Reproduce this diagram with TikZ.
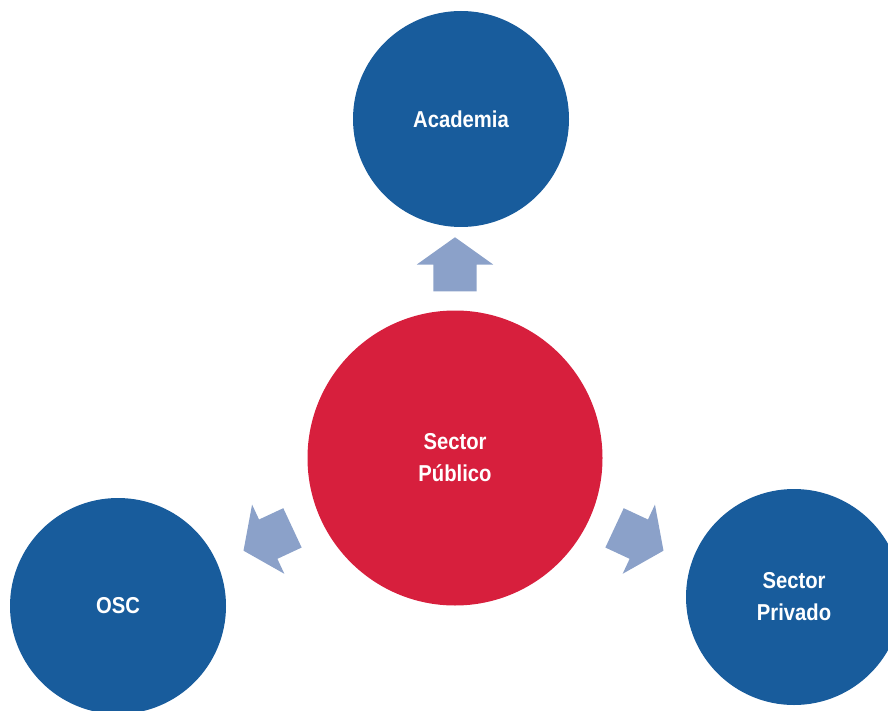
\documentclass[tikz,border=0pt]{standalone}
\usepackage{fontspec}
\setmainfont{Liberation Sans}[FakeStretch=0.88]
\usetikzlibrary{shapes.arrows}
\definecolor{hubred}{RGB}{215,31,61}
\definecolor{satblue}{RGB}{24,92,156}
\definecolor{flowblue}{RGB}{139,161,201}
\begin{document}
\begin{tikzpicture}[x=1pt,y=-1pt,
  bubble/.style={circle, inner sep=0pt, text=white, align=center,
    font=\fontsize{23}{32}\selectfont\bfseries},
  hub/.style={bubble, fill=hubred, minimum size=295pt},
  sat/.style={bubble, fill=satblue, minimum size=216pt},
  flow/.style={single arrow, fill=flowblue, draw=none,
    inner xsep=0pt, inner ysep=21.5pt,
    minimum height=54pt,
    single arrow head extend=16.5pt, single arrow tip angle=109}]
\useasboundingbox (0,0) rectangle (888,711);
\clip (0,0) rectangle (888,711);
\node[hub] (pub) at (455,458) {Sector\\Público};
\node[sat] (acad) at (461,119) {Academia};
\node[sat] (osc) at (118,606) {OSC};
\node[sat] (priv) at (794,597) {Sector\\Privado};
\node[flow, rotate=90] (aup) at (455,272) {};
\node[flow, rotate=205] (aleft) at (275,536) {};
\node[flow, rotate=-25] (aright) at (632,536) {};
\end{tikzpicture}
\end{document}
